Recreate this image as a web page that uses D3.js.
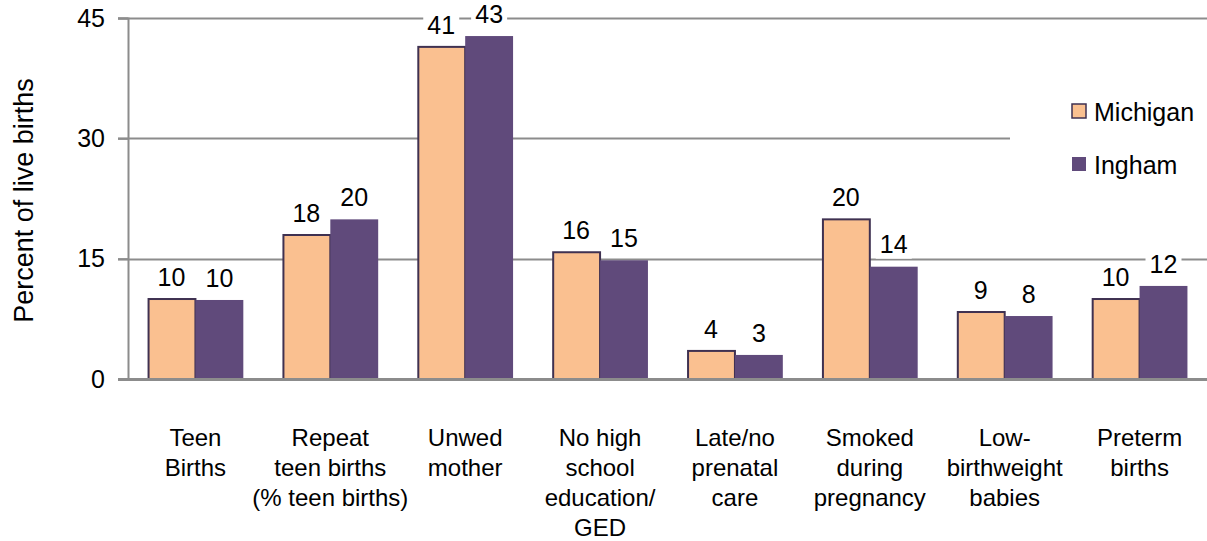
<!DOCTYPE html>
<html>
<head>
<meta charset="utf-8">
<script src="https://cdn.jsdelivr.net/npm/d3@7"></script>
<style>
  body { margin: 0; background: #fff; }
  svg { display: block; font-family: "Liberation Sans", Arial, sans-serif; }
</style>
</head>
<body>
<div id="chart"></div>
<script>
// Data
let categories = [
  ["Teen", "Births"],
  ["Repeat", "teen births", "(% teen births)"],
  ["Unwed", "mother"],
  ["No high", "school", "education/", "GED"],
  ["Late/no", "prenatal", "care"],
  ["Smoked", "during", "pregnancy"],
  ["Low-", "birthweight", "babies"],
  ["Preterm", "births"],
];
let seriesNames = ["Michigan", "Ingham"];
let michigan = [9.97, 17.95, 41.4, 15.8, 3.5, 19.9, 8.35, 9.97];
let ingham = [9.85, 19.9, 42.75, 14.8, 3.0, 14.0, 7.85, 11.6];
let michiganLabels = ["10", "18", "41", "16", "4", "20", "9", "10"];
let inghamLabels = ["10", "20", "43", "15", "3", "14", "8", "12"];
let yTicks = [0, 15, 30, 45];

let width = 1207;
let height = 541;
let margin = { top: 18, right: 0, bottom: 162, left: 128 };

let colors = { Michigan: "#FAC090", Ingham: "#604A7B" };
let gridStroke = "#8c8c8c";
let fontSize = 24;

let data = categories.map((c, i) => ({
  index: i,
  lines: c,
  values: [
    { series: "Michigan", value: michigan[i], label: michiganLabels[i] },
    { series: "Ingham", value: ingham[i], label: inghamLabels[i] },
  ],
}));

// Scales
let xScale = d3
  .scaleBand()
  .domain(data.map((d) => d.index))
  .range([margin.left, width - margin.right])
  .paddingInner(0.29)
  .paddingOuter(0.145);

let xInner = d3.scaleBand().domain(seriesNames).range([0, xScale.bandwidth()]);

let yScale = d3
  .scaleLinear()
  .domain([0, 45])
  .range([height - margin.bottom, margin.top]);

const svg = d3
  .select("#chart")
  .append("svg")
  .attr("width", width)
  .attr("height", height);

// Gridlines
svg
  .append("g")
  .selectAll("line")
  .data(yTicks.filter((t) => t > 0))
  .join("line")
  .attr("x1", margin.left - 10)
  .attr("x2", width - margin.right)
  .attr("y1", (d) => Math.round(yScale(d)) + 0.5)
  .attr("y2", (d) => Math.round(yScale(d)) + 0.5)
  .attr("stroke", gridStroke)
  .attr("stroke-width", 2);

// Y axis
const yAxisG = svg
  .append("g")
  .attr("transform", `translate(${margin.left},0)`)
  .call(d3.axisLeft(yScale).tickValues(yTicks).tickSize(10).tickPadding(13));
yAxisG.select(".domain").attr("stroke", gridStroke).attr("stroke-width", 2);
yAxisG.selectAll(".tick line").attr("stroke", gridStroke).attr("stroke-width", 2);
yAxisG
  .selectAll(".tick text")
  .attr("font-size", 25)
  .attr("fill", "#000")
  .attr("font-family", "Liberation Sans, Arial, sans-serif");

// Y axis title
svg
  .append("text")
  .attr("transform", `translate(24,${yScale(22.5) + 2}) rotate(-90)`)
  .attr("text-anchor", "middle")
  .attr("dy", "0.35em")
  .attr("font-size", 27)
  .text("Percent of live births");

// Legend background (covers grid)
svg
  .append("rect")
  .attr("x", 1010)
  .attr("y", 85)
  .attr("width", 197)
  .attr("height", 110)
  .attr("fill", "#fff");

// Bars
const groupG = svg
  .append("g")
  .selectAll("g")
  .data(data)
  .join("g")
  .attr("transform", (d) => `translate(${xScale(d.index)},0)`);

groupG
  .selectAll("rect")
  .data((d) => d.values)
  .join("rect")
  .attr("x", (d) => xInner(d.series) + (d.series === "Michigan" ? 1 : 0))
  .attr("y", (d) => yScale(d.value))
  .attr("width", (d) => xInner.bandwidth() - (d.series === "Michigan" ? 1 : 0))
  .attr("height", (d) => yScale(0) - yScale(d.value))
  .attr("fill", (d) => colors[d.series])
  .attr("stroke", (d) => (d.series === "Michigan" ? "#3F3151" : "none"))
  .attr("stroke-width", 2);

// Data labels with white background
let labelG = groupG
  .selectAll("g.lbl")
  .data((d) => d.values)
  .join("g")
  .attr("class", "lbl")
  .attr(
    "transform",
    (d) =>
      `translate(${xInner(d.series) + xInner.bandwidth() / 2},${yScale(d.value) - 22})`
  );

labelG
  .append("rect")
  .attr("x", (d) => -(d.label.length * 13 + 10) / 2)
  .attr("y", -14)
  .attr("width", (d) => d.label.length * 13 + 10)
  .attr("height", 28)
  .attr("fill", "#fff");

labelG
  .append("text")
  .attr("text-anchor", "middle")
  .attr("dy", "0.35em")
  .attr("font-size", 25)
  .text((d) => d.label);

// Baseline
svg
  .append("line")
  .attr("x1", margin.left - 10)
  .attr("x2", width - margin.right)
  .attr("y1", yScale(0) + 0.5)
  .attr("y2", yScale(0) + 0.5)
  .attr("stroke", gridStroke)
  .attr("stroke-width", 3);

// Category labels
svg
  .append("g")
  .selectAll("text")
  .data(data)
  .join("text")
  .attr("text-anchor", "middle")
  .attr("font-size", fontSize)
  .attr("x", (d) => xScale(d.index) + xScale.bandwidth() / 2)
  .attr("y", 446)
  .selectAll("tspan")
  .data((d) =>
    d.lines.map((l) => ({ l, x: xScale(d.index) + xScale.bandwidth() / 2 }))
  )
  .join("tspan")
  .attr("x", (d) => d.x)
  .attr("dy", (d, i) => (i === 0 ? 0 : 30))
  .text((d) => d.l);

// Legend
let legendItem = svg
  .append("g")
  .selectAll("g")
  .data(seriesNames)
  .join("g")
  .attr("transform", (d, i) => `translate(1072,${104 + i * 53})`);

legendItem
  .append("rect")
  .attr("width", 14)
  .attr("height", 14)
  .attr("fill", (d) => colors[d])
  .attr("stroke", (d) => (d === "Michigan" ? "#3F3151" : "none"))
  .attr("stroke-width", 1.5);

legendItem
  .append("text")
  .attr("x", 22)
  .attr("y", 8)
  .attr("dy", "0.35em")
  .attr("font-size", 25)
  .text((d) => d);
</script>
</body>
</html>
